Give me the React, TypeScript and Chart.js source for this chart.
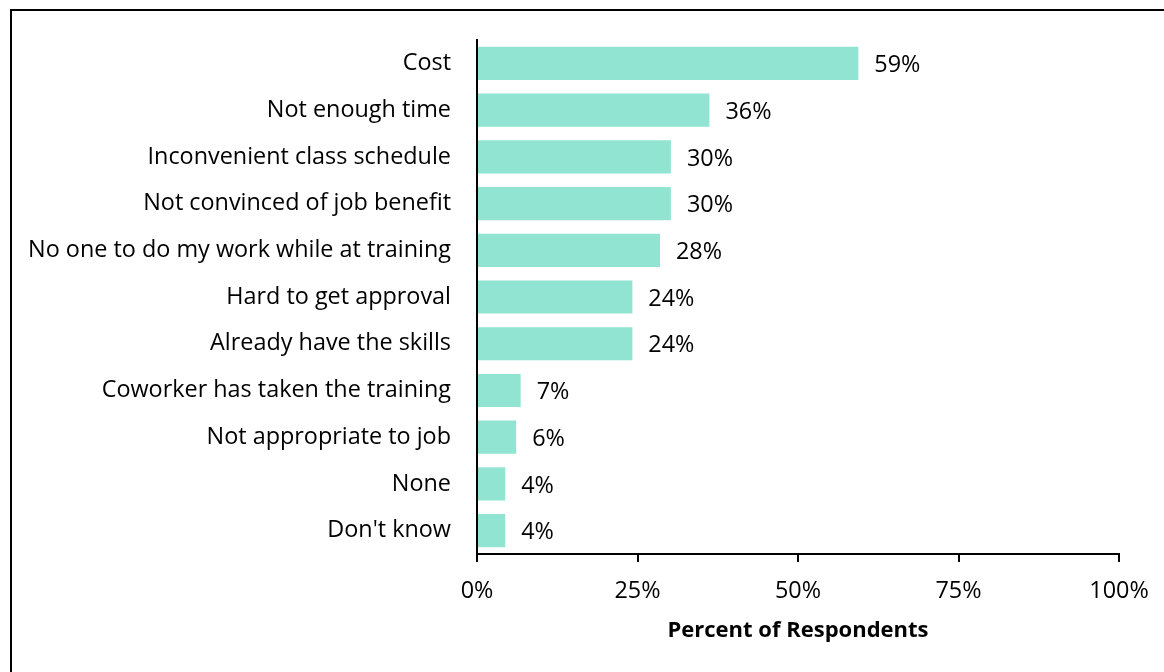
import React, { useEffect, useRef } from "react";
import { Chart, registerables } from "chart.js";

Chart.register(...registerables);

const categories = [
  "Cost",
  "Not enough time",
  "Inconvenient class schedule",
  "Not convinced of job benefit",
  "No one to do my work while at training",
  "Hard to get approval",
  "Already have the skills",
  "Coworker has taken the training",
  "Not appropriate to job",
  "None",
  "Don't know",
];
const values = [59.4, 36.2, 30.2, 30.2, 28.5, 24.2, 24.2, 6.8, 6.1, 4.4, 4.4];
const valueLabels = ["59%", "36%", "30%", "30%", "28%", "24%", "24%", "7%", "6%", "4%", "4%"];
const xTicks = [0, 25, 50, 75, 100];
const axisTitle = "Percent of Respondents";

const FONT = "'Open Sans', sans-serif";

const valueLabelPlugin = {
  id: "valueLabels",
  afterDatasetsDraw(chart: any) {
    const ctx = chart.ctx;
    const meta = chart.getDatasetMeta(0);
    ctx.save();
    ctx.font = `23.4px ${FONT}`;
    ctx.fillStyle = "#000000";
    ctx.textAlign = "left";
    ctx.textBaseline = "middle";
    meta.data.forEach((bar: any, i: number) => {
      ctx.fillText(valueLabels[i], bar.x + 16, bar.y + 2);
    });
    ctx.restore();
  },
};

export default function App() {
  const ref = useRef<HTMLCanvasElement>(null);
  useEffect(() => {
    if (!ref.current) return;
    const chart = new Chart(ref.current, {
      type: "bar",
      data: {
        labels: categories,
        datasets: [
          {
            data: values,
            backgroundColor: "#90E4D1",
            borderWidth: 0,
            barPercentage: 0.71,
            categoryPercentage: 1,
          },
        ],
      },
      options: {
        indexAxis: "y",
        responsive: false,
        animation: false,
        layout: { padding: { top: 39, right: 45, bottom: 0, left: 0 } },
        plugins: {
          legend: { display: false },
          tooltip: { enabled: false },
        },
        scales: {
          x: {
            min: 0,
            max: 100,
            afterBuildTicks: (scale: any) => {
              scale.ticks = xTicks.map((v) => ({ value: v }));
            },
            afterFit: (scale: any) => {
              scale.height = 118;
            },
            grid: {
              display: true,
              drawOnChartArea: false,
              drawTicks: true,
              tickLength: 8,
              color: "#000000",
              lineWidth: 2,
            },
            border: { display: true, color: "#000000", width: 2 },
            ticks: {
              padding: 15,
              color: "#000000",
              font: { family: FONT, size: 23.4 },
              maxRotation: 0,
              callback: (v: any) => `${v}%`,
            },
            title: {
              display: true,
              text: axisTitle,
              color: "#000000",
              font: { family: FONT, size: 22, weight: "bold" },
              padding: { top: 0, bottom: 28 },
            },
          },
          y: {
            afterFit: (scale: any) => {
              scale.width = 477;
            },
            grid: { display: false, drawTicks: false },
            border: { display: true, color: "#000000", width: 2 },
            ticks: {
              padding: 26,
              color: "#000000",
              font: { family: FONT, size: 23.4 },
              autoSkip: false,
            },
          },
        },
      },
      plugins: [valueLabelPlugin],
    });
    return () => chart.destroy();
  }, []);

  return (
    <div style={{ position: "absolute", left: 0, top: 0, width: 1164, height: 672, overflow: "hidden", background: "#ffffff" }}>
      <div
        style={{
          position: "absolute",
          left: 10,
          top: 9,
          width: 1200,
          height: 720,
          border: "2px solid #000000",
          boxSizing: "border-box",
        }}
      />
      <canvas ref={ref} width={1164} height={672} style={{ position: "absolute", left: 0, top: 0 }} />
    </div>
  );
}
